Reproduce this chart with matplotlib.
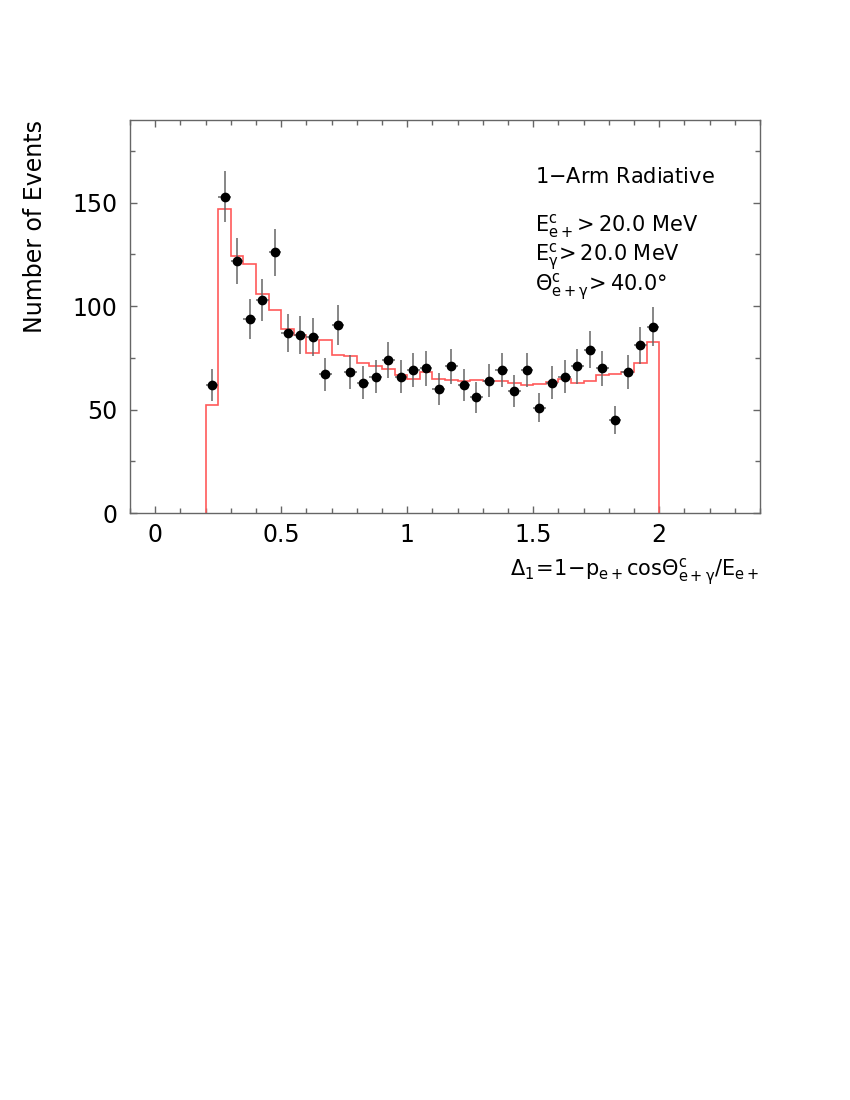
import numpy as np
import matplotlib
matplotlib.use('Agg')
import matplotlib.pyplot as plt
from matplotlib.ticker import MultipleLocator

plt.rcParams['font.family'] = ['DejaVu Sans']
plt.rcParams['mathtext.fontset'] = 'dejavusans'
plt.rcParams['mathtext.default'] = 'regular'
fontsize = 15

# bins of Delta_1, width 0.05 from 0.2 to 2.0
edges = np.round(np.arange(0.2, 2.0001, 0.05), 3)
centers = 0.5 * (edges[:-1] + edges[1:])

# data (black points)
data = [62, 153, 122, 94, 103, 126, 87, 86, 85, 67, 91, 68,
        63, 66, 74, 66, 69, 70, 60, 71, 62, 56, 64, 69,
        59, 69, 51, 63, 66, 71, 79, 70, 45, 68, 81, 90]

# Monte Carlo (red histogram)
mc = [52, 147, 124.3, 120.4, 106, 98.2, 88.8, 86, 77.5, 83.5, 76.5, 75.9,
      72.6, 70.9, 69.4, 66.5, 64.9, 68.4, 64.6, 64.3, 63.9, 64.3, 63.8, 63.9,
      63, 62.1, 62.5, 63.4, 64.6, 62.7, 63.6, 66.5, 67, 68.3, 72.6, 82.7]

data = np.array(data, dtype=float)
mc = np.array(mc)
err = np.sqrt(data)

fig = plt.figure(figsize=(8.5, 11), dpi=100)
ax = fig.add_axes([0.153, 0.5336, 0.741, 0.3573])

ax.stairs(mc, edges, baseline=0, color='#ff5a5a', lw=1.2, zorder=2)
ax.errorbar(centers, data, yerr=err, xerr=0.025, fmt='o', color='black',
            ms=6, ecolor='#666666', elinewidth=1.1, capsize=0, zorder=3)

ax.set_xlim(-0.1, 2.4)
ax.set_ylim(0, 190)
ax.xaxis.set_major_locator(MultipleLocator(0.5))
ax.xaxis.set_minor_locator(MultipleLocator(0.1))
ax.yaxis.set_major_locator(MultipleLocator(50))
ax.yaxis.set_minor_locator(MultipleLocator(25))
ax.set_xticks([0, 0.5, 1, 1.5, 2])
ax.set_xticklabels(['0', '0.5', '1', '1.5', '2'])
ax.tick_params(which='both', direction='in', top=True, right=True,
               color='#666666', labelsize=17)
ax.tick_params(which='major', length=5, width=1)
ax.tick_params(which='minor', length=3.5, width=1)
ax.tick_params(axis='y', pad=9)
ax.tick_params(axis='x', pad=7)
for s in ax.spines.values():
    s.set_color('#666666')
    s.set_linewidth(1)

fig.text(0.041, 0.891, 'Number of Events', rotation=90, ha='center', va='top',
         fontsize=17)
fig.text(0.893, 0.48,
         r'$\Delta_1\!=\!1\!-\!p_{e+}cos\Theta^{c}_{e+\gamma}/E_{e+}$',
         ha='right', va='center', fontsize=fontsize)

ax.text(0.643, 0.839, r'1$-$Arm Radiative', transform=ax.transAxes,
        va='baseline', fontsize=fontsize)
ax.text(0.643, 0.7176, r'$E^{c}_{e+}\!>$20.0 MeV', transform=ax.transAxes,
        va='baseline', fontsize=fontsize)
ax.text(0.643, 0.641, r'$E^{c}_{\gamma}\!>$20.0 MeV', transform=ax.transAxes,
        va='baseline', fontsize=fontsize)
ax.text(0.643, 0.563, r'$\Theta^{c}_{e+\gamma}\!>$40.0$\degree$', transform=ax.transAxes,
        va='baseline', fontsize=fontsize)

plt.savefig('out.png', dpi=100)
